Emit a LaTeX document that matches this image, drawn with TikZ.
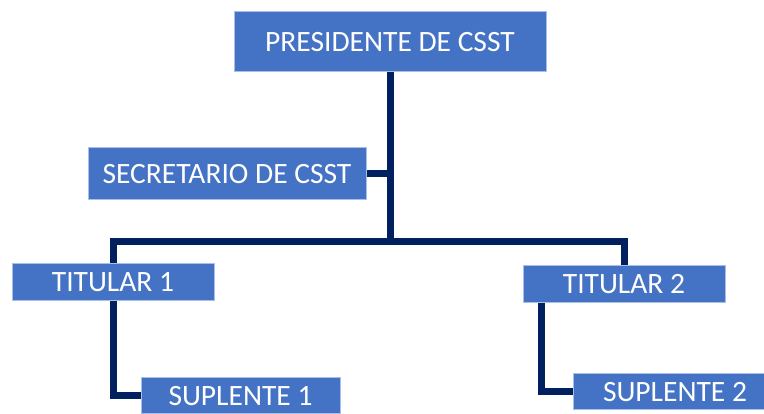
\documentclass[tikz,border=0pt]{standalone}
\usepackage{fontspec}
\setmainfont{Carlito}
\usetikzlibrary{backgrounds}
\definecolor{cajaazul}{HTML}{4472C4}
\definecolor{bordeazul}{HTML}{A9BFE6}
\definecolor{lineaazul}{HTML}{002060}
\tikzset{
    cargo/.style={draw=bordeazul, line width=1pt, fill=cajaazul, text=white,
        font=\fontsize{29.5}{32}\selectfont, inner sep=0pt},
    enlace/.style={draw=lineaazul, line width=7pt}
}

\begin{document}
\begin{tikzpicture}[x=1pt, y=1pt]
    \useasboundingbox (0,0) rectangle (764,414);
    \clip (0,0) rectangle (764,414);

    % Cajas.
    \node[cargo, minimum width=312pt, minimum height=60pt] (presidente) at (390,372) {PRESIDENTE DE CSST};
    \node[cargo, minimum width=278pt, minimum height=52pt] (secretario) at (227,240) {SECRETARIO DE CSST};
    \node[cargo, minimum width=202pt, minimum height=37pt] (titular1) at (113,132) {TITULAR 1};
    \node[cargo, minimum width=202pt, minimum height=37pt] (titular2) at (624,130) {TITULAR 2};
    \node[cargo, minimum width=199pt, minimum height=36pt] (suplente1) at (240.5,18) {SUPLENTE 1};
    \node[cargo, minimum width=204pt, minimum height=36pt] (suplente2) at (675,22) {SUPLENTE 2};

    % Lineas.
    \coordinate (nudo) at (390,172);
    \begin{scope}[on background layer]
        \draw[enlace] (presidente.south) -- (nudo);
        \draw[enlace] (secretario.east) -- (secretario.east -| nudo);
        \draw[enlace] (titular1.north) |- (nudo) -| (titular2.north);
        \draw[enlace] (titular1.south) |- (suplente1.west);
        \draw[enlace] ([xshift=19pt]titular2.south west) |- (suplente2.west);
    \end{scope}
\end{tikzpicture}
\end{document}
